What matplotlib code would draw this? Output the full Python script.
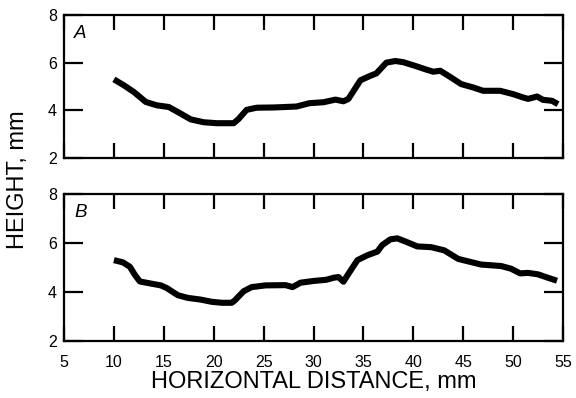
import matplotlib
matplotlib.use("Agg")
import matplotlib.pyplot as plt

plt.rcParams['font.family'] = ['Liberation Sans', 'DejaVu Sans']

xa = [10.0, 11.0, 12.0, 13.2, 14.3, 15.5, 16.7, 17.7, 19.0, 20.3, 22.0, 22.5, 23.3, 24.3,
      26.0, 28.3, 29.6, 31.0, 32.2, 33.0, 33.5, 34.7, 35.7, 36.3, 37.3, 38.2, 39.0, 40.3,
      41.3, 42.0, 42.7, 43.7, 44.8, 46.0, 47.0, 48.7, 50.0, 51.0, 51.5, 52.4, 53.0, 53.9, 54.5]
ya = [5.30, 5.05, 4.77, 4.35, 4.21, 4.14, 3.86, 3.62, 3.50, 3.46, 3.46, 3.64, 4.02, 4.11,
      4.12, 4.16, 4.30, 4.34, 4.45, 4.38, 4.48, 5.26, 5.45, 5.55, 6.00, 6.07, 6.02, 5.85,
      5.71, 5.62, 5.66, 5.40, 5.10, 4.96, 4.82, 4.82, 4.68, 4.54, 4.48, 4.58, 4.44, 4.40, 4.26]

xb = [10.0, 10.9, 11.6, 12.1, 12.6, 13.5, 14.7, 15.3, 16.4, 17.4, 18.7, 19.8, 20.8, 21.8,
      22.1, 23.0, 23.8, 25.2, 27.2, 27.9, 28.7, 30.0, 31.3, 32.0, 32.5, 33.0, 33.4, 34.4,
      35.4, 36.4, 36.9, 37.7, 38.4, 39.4, 40.4, 41.8, 43.1, 44.5, 45.8, 46.8, 48.8, 49.8,
      50.7, 51.5, 52.5, 53.5, 54.4]
yb = [5.30, 5.21, 5.03, 4.70, 4.43, 4.36, 4.27, 4.16, 3.87, 3.76, 3.69, 3.60, 3.56, 3.56,
      3.65, 4.03, 4.20, 4.27, 4.28, 4.20, 4.38, 4.45, 4.50, 4.58, 4.61, 4.42, 4.68, 5.30,
      5.50, 5.65, 5.92, 6.15, 6.19, 6.03, 5.86, 5.83, 5.70, 5.35, 5.22, 5.12, 5.06, 4.95,
      4.76, 4.78, 4.72, 4.58, 4.46]

xticks = [5, 10, 15, 20, 25, 30, 35, 40, 45, 50, 55]
yticks = [2, 4, 6, 8]

fig = plt.figure(figsize=(5.76, 3.98), dpi=100)
ax1 = fig.add_axes([64/576, 1-158/398, 499/576, 143/398])
ax2 = fig.add_axes([64/576, 1-341/398, 499/576, 147/398])

for ax, x, y, lab in [(ax1, xa, ya, 'A'), (ax2, xb, yb, 'B')]:
    ax.plot(x, y, color='black', lw=4.4, solid_capstyle='butt', solid_joinstyle='round')
    ax.set_xlim(5, 55)
    ax.set_ylim(2, 8)
    ax.set_xticks(xticks)
    ax.set_yticks(yticks)
    ax.tick_params(axis='x', direction='in', length=11, width=1.6, top=True, bottom=True,
                   labelsize=11.5, pad=10)
    ax.tick_params(axis='y', direction='in', length=14, width=1.6, left=True, right=True,
                   labelsize=11.5, pad=5)
    for s in ax.spines.values():
        s.set_linewidth(1.6)
    ax.text(0.02, 0.93, lab, transform=ax.transAxes, fontsize=13.5, style='italic',
            ha='left', va='top')

ax1.tick_params(axis='x', labelbottom=False)
ax2.set_xlabel('HORIZONTAL DISTANCE, mm', fontsize=17, labelpad=1)
fig.text(18/576, 1-180/398, 'HEIGHT, mm', rotation=90, fontsize=17, ha='center', va='center')

fig.savefig('out.png', dpi=100)
